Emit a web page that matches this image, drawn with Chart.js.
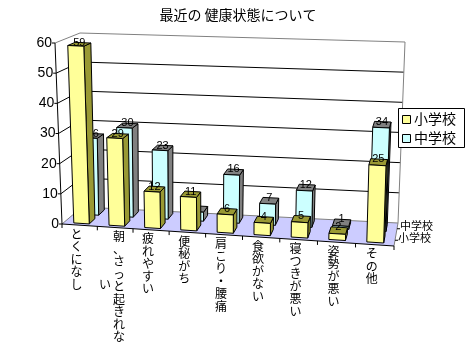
<!DOCTYPE html>
<html>
<head>
<meta charset="utf-8">
<style>
  html, body { margin: 0; padding: 0; background: #fff; }
  canvas { display: block; }
</style>
<script src="https://cdn.jsdelivr.net/npm/chart.js@4/dist/chart.umd.min.js"></script>
</head>
<body>
<canvas id="myChart" width="476" height="360"></canvas>
<script>
const chartTitle = '最近の 健康状態について';
const categories = ['とくになし', '朝、さっと起きれな|い', '疲れやすい', '便秘がち', '肩こり・腰痛', '食欲がない', '寝つきが悪い', '姿勢が悪い', 'その他'];
const shougakkou = [59, 29, 12, 11, 6, 4, 5, 2, 25];
const chuugakkou = [26, 30, 23, 3, 16, 7, 12, 1, 34];
const seriesNames = ['小学校', '中学校'];

const JP = '"Noto Sans CJK JP"';
const SANS = '"Liberation Sans"';

// corners of the slanted box the flat chart area gets projected on
const front = { bl: [62, 224], br: [394, 246], tl: [55, 43], tr: [400, 60] };
const back = { bl: [82, 207], br: [398, 223], tl: [80, 33], tr: [405, 42] };
const perspective = 0.048;
// depth of each row of bars, front to back
const rows = [[0.1, 0.4], [0.6, 0.9]];
const faces = [
    { front: '#FFFF99', side: '#999933', top: '#999933' },
    { front: '#CCFFFF', side: '#808080', top: '#808080' }
];

function mix(a, b, t) {
    return [a[0] + (b[0] - a[0]) * t, a[1] + (b[1] - a[1]) * t];
}

// u, v are 0..1 over the chart area, d is 0..1 front to back
function project(u, v, d) {
    const w = u - perspective * u * (1 - u);
    const f = mix(mix(front.bl, front.br, w), mix(front.tl, front.tr, w), v);
    const b = mix(mix(back.bl, back.br, w), mix(back.tl, back.tr, w), v);
    return mix(f, b, d);
}

function poly(ctx, pts, fill, stroke) {
    ctx.beginPath();
    pts.forEach(function (p, i) {
        if (i === 0) ctx.moveTo(p[0], p[1]);
        else ctx.lineTo(p[0], p[1]);
    });
    if (fill) {
        ctx.closePath();
        ctx.fillStyle = fill;
        ctx.fill();
    }
    if (stroke) {
        ctx.strokeStyle = stroke;
        ctx.lineWidth = 1;
        ctx.stroke();
    }
}

function uOf(chart, px) {
    const a = chart.chartArea;
    return (px - a.left) / (a.right - a.left);
}

function vOf(chart, py) {
    const a = chart.chartArea;
    return (a.bottom - py) / (a.bottom - a.top);
}

function drawWalls(chart) {
    const ctx = chart.ctx;
    const yScale = chart.scales.y;
    const xScale = chart.scales.x;

    // floor
    poly(ctx, [project(0, 0, 0), project(1, 0, 0), project(1, 0, 1), project(0, 0, 1)], '#CCCCFF', null);
    poly(ctx, [project(0, 0, 0), project(0, 0, 1), project(1, 0, 1), project(1, 0, 0)], null, '#808080');

    // gridlines and value axis
    ctx.font = '14px ' + SANS;
    ctx.textAlign = 'right';
    ctx.textBaseline = 'middle';
    yScale.ticks.forEach(function (tick) {
        const v = vOf(chart, yScale.getPixelForValue(tick.value));
        const p = project(0, v, 0);
        const isEdge = tick.value === 0 || tick.value === yScale.max;
        if (tick.value !== 0) {
            poly(ctx, [p, project(0, v, 1), project(1, v, 1)], null, isEdge ? '#808080' : '#000');
        }
        poly(ctx, [[p[0] - 3, p[1]], p], null, '#000');
        ctx.fillStyle = '#000';
        ctx.fillText(tick.label, p[0] - 3, p[1]);
    });
    poly(ctx, [project(1, 0, 1), project(1, 1, 1)], null, '#808080');
    poly(ctx, [project(0, 0, 0), project(0, 1, 0)], null, '#000');
    poly(ctx, [project(0, 0, 0), project(1, 0, 0)], null, '#000');

    // category ticks and labels, written top to bottom
    ctx.font = '12px ' + JP;
    ctx.textAlign = 'center';
    for (let i = 0; i <= categories.length; i++) {
        const p = project(i / categories.length, 0, 0);
        poly(ctx, [p, [p[0], p[1] + 4]], null, '#000');
    }
    categories.forEach(function (name, i) {
        const u = uOf(chart, xScale.getPixelForValue(i));
        const p = project(u, 0, 0);
        const cols = name.split('|');
        cols.forEach(function (col, c) {
            // a wrapped label starts a new column to the left
            const x = p[0] - 3 + (cols.length > 1 ? 7 : 0) - c * 14;
            const yStart = p[1] + 9 + c * 48;
            Array.from(col).forEach(function (ch, k) {
                ctx.fillStyle = '#000';
                ctx.fillText(ch, x, yStart + k * 12.5);
            });
        });
    });

    // series axis names at the right of the floor
    ctx.font = '11px ' + JP;
    ctx.textAlign = 'left';
    seriesNames.forEach(function (name, s) {
        const d = (rows[s][0] + rows[s][1]) / 2;
        const p = project(1, 0, d);
        poly(ctx, [p, [p[0] + 3, p[1]]], null, '#000');
        ctx.fillStyle = '#000';
        ctx.fillText(name, p[0] + 3, p[1] + (s === 0 ? -2 : -3));
    });
}

function drawBar(chart, el, s, value) {
    const ctx = chart.ctx;
    const props = el.getProps(['x', 'y', 'base', 'width'], true);
    const u0 = uOf(chart, props.x - props.width / 2);
    const u1 = uOf(chart, props.x + props.width / 2);
    const vTop = vOf(chart, props.y);
    const vBase = vOf(chart, props.base);
    const d0 = rows[s][0];
    const d1 = rows[s][1];

    poly(ctx, [project(u1, vBase, d0), project(u1, vBase, d1), project(u1, vTop, d1), project(u1, vTop, d0)], faces[s].side, '#000');
    poly(ctx, [project(u0, vTop, d0), project(u1, vTop, d0), project(u1, vTop, d1), project(u0, vTop, d1)], faces[s].top, '#000');
    poly(ctx, [project(u0, vBase, d0), project(u1, vBase, d0), project(u1, vTop, d0), project(u0, vTop, d0)], faces[s].front, '#000');

    const mid = (u0 + u1) / 2;
    ctx.font = '11px ' + SANS;
    ctx.textAlign = 'center';
    ctx.textBaseline = 'middle';
    ctx.fillStyle = '#000';
    ctx.fillText(value, project(mid, vTop, (d0 + d1) / 2)[0], project(mid, vTop, d1)[1]);
}

const box3d = {
    id: 'box3d',
    beforeDatasetsDraw: function (chart) {
        drawWalls(chart);
    },
    // bars keep the library's geometry, only the painting is projected
    beforeDatasetDraw: function (chart, args) {
        const s = args.index;
        chart.getDatasetMeta(s).data.forEach(function (el, i) {
            drawBar(chart, el, s, chart.data.datasets[s].data[i]);
        });
        return false;
    },
    afterDraw: function (chart) {
        const ctx = chart.ctx;
        ctx.beginPath();
        ctx.rect(398.5, 108.5, 66, 39);
        ctx.fillStyle = '#fff';
        ctx.fill();
        ctx.strokeStyle = '#000';
        ctx.stroke();
        ctx.font = '14px ' + JP;
        ctx.textAlign = 'left';
        ctx.textBaseline = 'middle';
        chart.data.datasets.forEach(function (ds, s) {
            const y = 115 + s * 19;
            ctx.beginPath();
            ctx.rect(402.5, y + 0.5, 8, 8);
            ctx.fillStyle = ds.backgroundColor;
            ctx.fill();
            ctx.strokeStyle = '#000';
            ctx.stroke();
            ctx.fillStyle = '#000';
            ctx.fillText(ds.label, 414, y + 4);
        });
    }
};

const myChart = new Chart(document.getElementById('myChart'), {
    type: 'bar',
    data: {
        labels: categories,
        datasets: [
            { label: seriesNames[0], data: shougakkou, backgroundColor: faces[0].front },
            { label: seriesNames[1], data: chuugakkou, backgroundColor: faces[1].front }
        ]
    },
    options: {
        responsive: false,
        animation: false,
        layout: { padding: { left: 70, right: 70, bottom: 110 } },
        datasets: { bar: { grouped: false, barPercentage: 0.44, categoryPercentage: 1 } },
        plugins: {
            legend: { display: false },
            tooltip: { enabled: false },
            title: {
                display: true,
                text: chartTitle,
                color: '#000',
                font: { family: JP, size: 14, weight: 'normal' },
                padding: { top: 6, bottom: 20 }
            }
        },
        scales: {
            x: { display: false },
            y: { display: false, min: 0, max: 60, ticks: { stepSize: 10 } }
        }
    },
    plugins: [box3d]
});
</script>
</body>
</html>
